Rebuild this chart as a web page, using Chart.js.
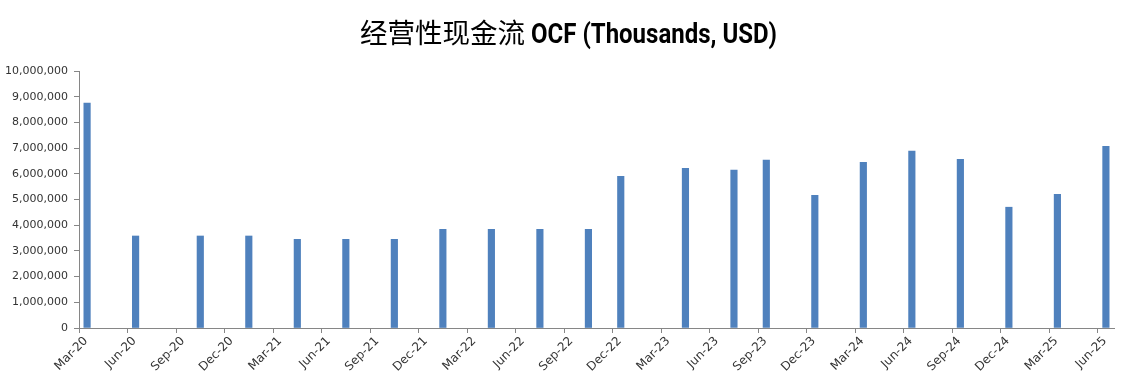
<!DOCTYPE html>
<html>
<head>
<meta charset="utf-8">
<script src="https://cdn.jsdelivr.net/npm/chart.js@4"></script>
<style>
  html, body { margin: 0; padding: 0; background: #fff; }
  #wrap { width: 1127px; height: 389px; }
</style>
</head>
<body>
<div id="wrap"><canvas id="ocfChart"></canvas></div>
<script>
// 数据 (单位: 千美元)
const periods = [
  "Mar-20", "Jun-20", "Oct-20", "Jan-21", "Apr-21", "Jul-21", "Oct-21",
  "Jan-22", "Apr-22", "Jul-22", "Oct-22", "Dec-22", "Apr-23", "Jul-23",
  "Sep-23", "Dec-23", "Mar-24", "Jun-24", "Sep-24", "Dec-24", "Mar-25", "Jun-25",
];
const ocfValues = [
  8750000, 3580000, 3580000, 3580000, 3450000, 3450000, 3450000,
  3840000, 3840000, 3840000, 3840000, 5900000, 6210000, 6140000,
  6530000, 5160000, 6450000, 6880000, 6560000, 4700000, 5200000, 7070000,
];
const tickLabels = [
  "Mar-20", "Jun-20", "Sep-20", "Dec-20", "Mar-21", "Jun-21", "Sep-21", "Dec-21",
  "Mar-22", "Jun-22", "Sep-22", "Dec-22", "Mar-23", "Jun-23", "Sep-23", "Dec-23",
  "Mar-24", "Jun-24", "Sep-24", "Dec-24", "Mar-25", "Jun-25",
];
const titleCn = "经营性现金流";
const titleEn = "OCF (Thousands, USD)";

const monthNames = ["Jan","Feb","Mar","Apr","May","Jun","Jul","Aug","Sep","Oct","Nov","Dec"];
// 月份序号, Mar-20 = 0
const monthIndex = (s) => {
  const [m, yy] = s.split("-");
  return (parseInt(yy) - 20) * 12 + monthNames.indexOf(m) - 2;
};

const points = periods.map((p, i) => ({ x: monthIndex(p) + 0.5, y: ocfValues[i] }));

const axisColor = "#868686";
const fontFamily = "'DejaVu Sans', Verdana, sans-serif";

// 标题: 中文常规 + 英文粗体窄字
const titlePlugin = {
  id: "mixedTitle",
  afterDraw(chart) {
    const ctx = chart.ctx;
    ctx.save();
    ctx.fillStyle = "#000";
    ctx.textBaseline = "alphabetic";
    ctx.textAlign = "left";
    ctx.font = "27.5px 'Noto Sans CJK SC'";
    ctx.fillText(titleCn, 360, 43);
    ctx.font = "bold 27px Roboto, 'Noto Sans', sans-serif";
    ctx.fillText(titleEn, 531, 43, 246);
    ctx.restore();
  },
};

new Chart(document.getElementById("ocfChart"), {
  type: "bar",
  data: {
    datasets: [
      {
        label: "OCF",
        data: points,
        backgroundColor: "#4f81bd",
        barThickness: 6.5,
      },
    ],
  },
  plugins: [titlePlugin],
  options: {
    responsive: true,
    maintainAspectRatio: false,
    animation: false,
    layout: { padding: { left: 0, right: 13, top: 71, bottom: 0 } },
    plugins: {
      legend: { display: false },
      tooltip: { enabled: false },
      title: { display: false },
    },
    scales: {
      x: {
        type: "linear",
        offset: false,
        min: 0,
        max: 64,
        afterBuildTicks: (scale) => {
          scale.ticks = tickLabels.map((_, i) => ({ value: i * 3 }));
        },
        afterFit: (scale) => { scale.height = 61; },
        ticks: {
          callback: (v) => tickLabels[Math.round(v / 3)],
          maxRotation: 45,
          minRotation: 45,
          autoSkip: false,
          color: "#333",
          font: { family: fontFamily, size: 12 },
          padding: 1,
          labelOffset: 7,
        },
        grid: { offset: false, drawOnChartArea: false, drawTicks: true, tickLength: 5, color: axisColor },
        border: { color: axisColor },
      },
      y: {
        min: 0,
        max: 10000000,
        afterFit: (scale) => { scale.width = 79; },
        ticks: {
          stepSize: 1000000,
          callback: (v) => v.toLocaleString("en-US"),
          color: "#333",
          font: { family: fontFamily, size: 11 },
          padding: 6,
        },
        grid: { drawOnChartArea: false, drawTicks: true, tickLength: 5, color: axisColor },
        border: { color: axisColor },
      },
    },
  },
});
</script>
</body>
</html>
